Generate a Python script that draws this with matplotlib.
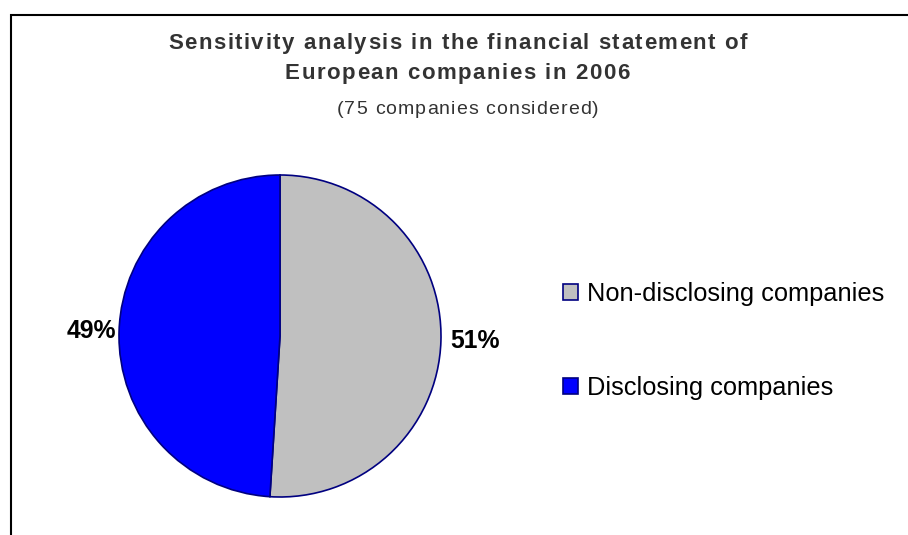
import matplotlib
matplotlib.use('Agg')
import matplotlib.pyplot as plt
from matplotlib.patches import Rectangle, Patch
from matplotlib.font_manager import FontProperties, findfont
from matplotlib.ft2font import FT2Font

plt.rcParams['font.family'] = ['Liberation Sans', 'DejaVu Sans']

labels = ['Non-disclosing companies', 'Disclosing companies']
shares = [51, 49]
colors = ['#C0C0C0', '#0000FF']
edge = '#000080'

W, H = 908, 535
DPI = 100
fig = plt.figure(figsize=(W / DPI, H / DPI), dpi=DPI)

# outer chart frame
fig.patches.append(Rectangle((11 / W, -0.05), 1.2, 1 - 15 / H + 0.05,
                             transform=fig.transFigure, fill=False,
                             edgecolor='black', linewidth=1.5))


def spaced_text(xc, yb, s, size, weight='normal', track=0.0, color='#333333'):
    # letter-spaced line of text centred at pixel x, baseline at pixel y
    prop = FontProperties(family='Liberation Sans', weight=weight)
    font = FT2Font(findfont(prop))
    font.set_size(size, DPI)
    adv = [font.load_char(ord(c)).linearHoriAdvance / 65536 for c in s]
    total = sum(adv) + track * (len(s) - 1)
    x = xc - total / 2
    for c, a in zip(s, adv):
        fig.text(x / W, 1 - yb / H, c, ha='left', va='baseline', fontsize=size,
                 fontweight=weight, color=color, family='Liberation Sans')
        x += a + track


spaced_text(457.5, 49, 'Sensitivity analysis in the financial statement of', 16,
            'bold', track=1.5)
spaced_text(457, 79, 'European companies in 2006', 16, 'bold', track=1.5)
spaced_text(467.5, 114, '(75 companies considered)', 14, track=1.1)

cx, cy, r = 280, 336, 161
ax = fig.add_axes([(cx - r) / W, (H - cy - r) / H, 2 * r / W, 2 * r / H])
pct = ['%d%%' % s for s in shares]
wedges, texts = ax.pie(shares, colors=colors, startangle=90, counterclock=False,
                       labels=pct, labeldistance=1.06,
                       wedgeprops=dict(edgecolor=edge, linewidth=1.2),
                       textprops=dict(fontsize=17.8, fontweight='bold', color='black'))
# left label sits a bit closer to the rim
lx, ly = texts[1].get_position()
texts[1].set_position((lx + 0.04, ly))
ax.set_xlim(-1, 1)
ax.set_ylim(-1, 1)
ax.axis('off')

handles = [Patch(facecolor=c, edgecolor=edge, linewidth=1.2) for c in colors]
fig.legend(handles, labels, loc='center left', bbox_to_anchor=(540 / W, 1 - 341 / H),
           frameon=False, fontsize=18.3, handlelength=0.6, handleheight=0.6,
           handletextpad=0.35, labelspacing=2.75)

fig.savefig('out.png', dpi=DPI)
